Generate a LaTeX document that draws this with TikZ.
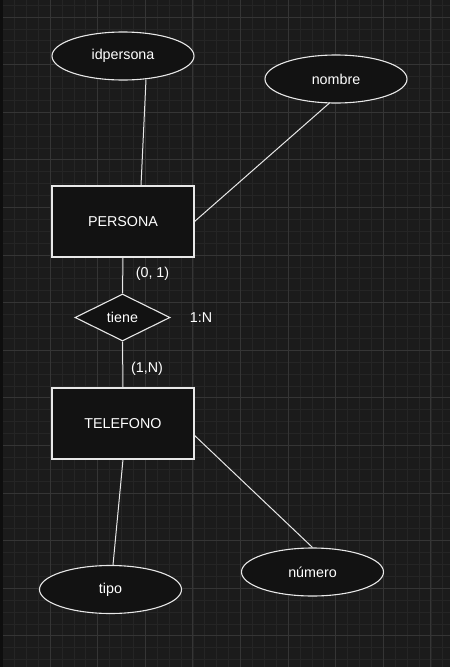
\documentclass[tikz,border=0pt]{standalone}
\usepackage{fontspec}
\setmainfont{Liberation Sans}
\usetikzlibrary{shapes.geometric,calc}
\definecolor{bgc}{HTML}{1B1B1B}
\definecolor{edgec}{HTML}{0E0E0E}
\definecolor{minorc}{HTML}{252525}
\definecolor{majorc}{HTML}{353535}
\definecolor{shapefill}{HTML}{121212}
\definecolor{strokec}{HTML}{E8E8E8}
\tikzset{
  attr/.style={ellipse, draw=strokec, fill=shapefill, line width=1.1pt, minimum width=142pt, minimum height=48pt, inner sep=0pt, text=white, font=\fontsize{14.3}{17}\selectfont},
  entity/.style={rectangle, draw=strokec, fill=shapefill, line width=1.1pt, minimum width=142pt, minimum height=71pt, inner sep=0pt, text=white, font=\fontsize{14.3}{17}\selectfont},
  rel/.style={diamond, draw=strokec, fill=shapefill, line width=1.1pt, minimum width=95pt, minimum height=47pt, inner sep=0pt, aspect=2, text=white, font=\fontsize{14.3}{17}\selectfont},
  conn/.style={draw=strokec, line width=1pt},
  lbl/.style={text=white, inner sep=0pt, font=\fontsize{14.3}{17}\selectfont},
}
\begin{document}
\begin{tikzpicture}[x=1pt,y=-1pt]
\fill[bgc] (0,0) rectangle (450,667);
\useasboundingbox (0,0) rectangle (450,667);
% minor grid
\foreach \k in {0,...,37} {
  \pgfmathsetmacro\xx{2.5+11.9*\k}
  \draw[minorc, line width=0.8pt] (\xx,0) -- (\xx,667);
}
\foreach \k in {0,...,55} {
  \pgfmathsetmacro\yy{5.1+11.9*\k}
  \draw[minorc, line width=0.8pt] (0,\yy) -- (450,\yy);
}
% major grid
\foreach \k in {0,...,9} {
  \pgfmathsetmacro\xx{2.5+47.6*\k}
  \draw[majorc, line width=1pt] (\xx,0) -- (\xx,667);
}
\foreach \k in {0,...,13} {
  \pgfmathsetmacro\yy{17+47.6*\k}
  \draw[majorc, line width=1pt] (0,\yy) -- (450,\yy);
}
\fill[edgec] (0,0) rectangle (3,667);

% connectors first (drawn under shapes)
\coordinate (c1) at (0,0);
\node[attr] (idp) at (123,56) {idpersona};
\node[attr] (nom) at (336,79) {nombre};
\node[entity] (per) at (123,221.5) {PERSONA};
\node[rel] (tie) at (122.5,317.5) {tiene};
\node[entity] (tel) at (123,423.5) {TELEFONO};
\node[attr] (tip) at (110.5,589.5) {tipo};
\node[attr] (num) at (312.5,572) {número};

\draw[conn] ($(idp.south)+(23,-1)$) -- ($(per.north)+(18,0)$);
\draw[conn] ($(nom.south)+(-6,-1)$) -- (per.east);
\draw[conn] (per.south) -- (tie.north);
\draw[conn] (tie.south) -- (tel.north);
\draw[conn] (tel.south) -- ($(tip.north)+(2.5,0)$);
\draw[conn] ($(tel.east)+(-1,11)$) -- (num.north);

\node[lbl] (l1) at (152.5,274) {(0, 1)};
\node[lbl] (l2) at (201,318) {1:N};
\node[lbl] (l3) at (147,369) {(1,N)};
\end{tikzpicture}
\end{document}
